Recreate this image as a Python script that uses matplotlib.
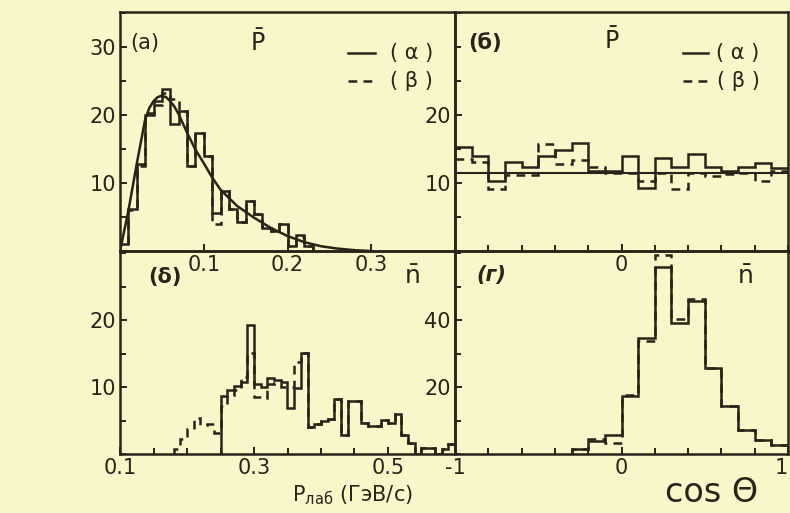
import numpy as np
import matplotlib
matplotlib.use("Agg")
import matplotlib.pyplot as plt
from matplotlib.ticker import MultipleLocator, FixedLocator

# ---- data ----
# (a) antiproton momentum spectrum, bins of 0.01 GeV/c
p_edges = np.round(np.arange(0.0, 0.2305, 0.01), 2)
p_alpha = [1.0, 6.2, 12.8, 19.9, 22.0, 23.8, 18.6, 20.6, 12.5, 17.4, 14.0, 5.6,
           8.8, 6.1, 4.2, 7.3, 5.4, 3.4, 2.9, 3.9, 0.8, 2.3, 0.8]
p_beta = [1.0, 6.0, 12.5, 20.3, 21.5, 23.2, 22.3, 20.6, 12.5, 17.4, 14.0, 4.0,
          8.8, 6.1, 4.2, 7.3, 5.4, 3.4, 2.9, 3.9, 0.8, 2.0, 0.8]
p_fit_x = [0.0, 0.01, 0.02, 0.03, 0.035, 0.04, 0.045, 0.05, 0.055, 0.06, 0.065,
           0.07, 0.08, 0.09, 0.10, 0.11, 0.12, 0.14, 0.16, 0.18, 0.20, 0.22,
           0.24, 0.26, 0.28, 0.30]
p_fit_y = [0.0, 5.9, 12.8, 19.3, 21.0, 22.0, 22.6, 22.8, 22.6, 22.0, 21.2,
           20.1, 17.4, 14.9, 12.9, 10.8, 9.0, 6.6, 4.9, 3.4, 2.2, 1.3,
           0.7, 0.35, 0.12, 0.0]

# (b) antiproton cos(theta), bins of 0.1
c_edges = np.round(np.linspace(-1.0, 1.0, 21), 2)
cp_alpha = [15.3, 14.0, 10.3, 13.0, 12.4, 13.9, 14.9, 15.8, 11.7, 11.8,
            13.9, 9.3, 13.7, 12.4, 14.2, 12.4, 11.8, 12.4, 12.9, 12.2]
cp_beta = [13.5, 13.0, 9.1, 11.2, 11.2, 15.7, 12.8, 13.4, 12.4, 11.5,
           11.4, 10.3, 11.4, 9.1, 11.4, 11.0, 11.3, 11.5, 10.3, 11.8]
cp_fit = 11.5

# (c) antineutron momentum spectrum
n_edges_alpha = np.round(np.arange(0.25, 0.6005, 0.01), 2)
n_alpha = [8.7, 9.5, 10.2, 10.8, 19.3, 10.5, 10.0, 11.3, 11.0, 10.7, 6.9, 9.9,
           15.1, 4.1, 4.5, 5.0, 5.2, 8.2, 2.8, 7.9, 7.9, 4.6, 4.2, 4.2, 5.1,
           4.6, 6.0, 2.8, 1.6, 0.0, 0.9, 0.9, 0.0, 0.7, 1.5]
n_edges_beta = np.round(np.arange(0.18, 0.6005, 0.01), 2)
n_beta = [0.7, 2.2, 3.7, 5.3, 4.3, 4.5, 3.2, 7.1, 8.8, 9.6, 11.5, 15.1, 8.5,
          8.3, 10.5, 10.6, 10.0, 10.0, 13.8, 15.1, 4.1, 4.5, 5.0, 5.2, 8.2,
          2.8, 7.9, 7.9, 4.6, 4.2, 4.2, 5.1, 4.6, 6.0, 2.8, 1.6, 0.0, 0.9,
          0.9, 0.0, 0.7, 1.5]

# (d) antineutron cos(theta)
cn_edges = np.round(np.linspace(-0.3, 1.0, 14), 2)
cn_alpha = [1.4, 4.0, 5.8, 17.3, 34.6, 55.8, 39.2, 45.6, 25.7, 14.3, 7.1, 4.1, 2.6]
cn_beta = [1.4, 4.5, 3.2, 17.7, 33.6, 59.3, 40.4, 46.4, 25.7, 14.3, 7.1, 4.1, 2.6]

# ---- style ----
bg = "#f9f6c9"
ink = "#2b2218"
lw = 1.8
dash = (0, (3.5, 2.5))
W, H = 790, 513

fig = plt.figure(figsize=(W / 100, H / 100), dpi=100, facecolor=bg)

L, M, R = 120 / W, 455 / W, 788 / W
T, Mid, B = 1 - 12 / H, 1 - 251 / H, 1 - 454 / H

ax_a = fig.add_axes([L, Mid, M - L, T - Mid])
ax_b = fig.add_axes([M, Mid, R - M, T - Mid])
ax_c = fig.add_axes([L, B, M - L, Mid - B])
ax_d = fig.add_axes([M, B, R - M, Mid - B])

for ax in (ax_a, ax_b, ax_c, ax_d):
    # transparent panels so that tick labels of neighbours stay visible
    ax.set_facecolor("none")
    for s in ax.spines.values():
        s.set_color(ink)
        s.set_linewidth(lw)
    ax.tick_params(which="both", direction="in", colors=ink, labelsize=15,
                   width=1.4, top=False, right=False, pad=3)
    ax.tick_params(which="major", length=5)
    ax.tick_params(which="minor", length=4)

# (a)
ax_a.stairs(p_alpha, p_edges, color=ink, lw=lw, baseline=0)
ax_a.stairs(p_beta, p_edges, color=ink, lw=lw, ls=dash, baseline=0)
ax_a.plot(p_fit_x, p_fit_y, color=ink, lw=lw)
ax_a.set_xlim(0, 0.4)
ax_a.set_ylim(0, 35.1)
ax_a.xaxis.set_major_locator(FixedLocator([0.1, 0.2, 0.3]))
ax_a.set_xticklabels(["0.1", "0.2", "0.3"])
ax_a.yaxis.set_major_locator(FixedLocator([10, 20, 30]))
ax_a.yaxis.set_minor_locator(MultipleLocator(5))

# (b)
ax_b.stairs(cp_alpha, c_edges, color=ink, lw=lw, baseline=None)
ax_b.stairs(cp_beta, c_edges, color=ink, lw=lw, ls=dash, baseline=None)
ax_b.axhline(cp_fit, color=ink, lw=1.5)
ax_b.set_xlim(-1, 1)
ax_b.set_ylim(0, 35.1)
ax_b.xaxis.set_major_locator(FixedLocator([0]))
ax_b.xaxis.set_minor_locator(MultipleLocator(0.2))
ax_b.set_xticklabels(["0"])
ax_b.yaxis.set_major_locator(FixedLocator([10, 20]))
ax_b.yaxis.set_minor_locator(MultipleLocator(5))

# (c)
ax_c.stairs(n_beta, n_edges_beta, color=ink, lw=lw, ls=dash, baseline=0)
ax_c.stairs(n_alpha, n_edges_alpha, color=ink, lw=lw, baseline=0)
ax_c.set_xlim(0.1, 0.6)
ax_c.set_ylim(0, 30.3)
ax_c.xaxis.set_major_locator(FixedLocator([0.1, 0.3, 0.5]))
ax_c.xaxis.set_minor_locator(MultipleLocator(0.05))
ax_c.set_xticklabels(["0.1", "0.3", "0.5"])
ax_c.yaxis.set_major_locator(FixedLocator([10, 20]))
ax_c.yaxis.set_minor_locator(MultipleLocator(5))

# (d)
ax_d.stairs(cn_beta, cn_edges, color=ink, lw=lw, ls=dash, baseline=0)
ax_d.stairs(cn_alpha, cn_edges, color=ink, lw=lw, baseline=0)
ax_d.set_xlim(-1, 1)
ax_d.set_ylim(0, 60.6)
ax_d.xaxis.set_major_locator(FixedLocator([-1, 0, 1]))
ax_d.xaxis.set_minor_locator(MultipleLocator(0.2))
ax_d.set_xticklabels(["-1", "0", "1"])
ax_d.get_xticklabels()[-1].set_horizontalalignment("right")
ax_d.yaxis.set_major_locator(FixedLocator([20, 40]))
ax_d.yaxis.set_minor_locator(MultipleLocator(10))

# panel letters and particle names
txt = dict(color=ink, ha="center", va="center")
ax_a.text(0.075, 0.87, "(a)", fontsize=15, transform=ax_a.transAxes, **txt)
ax_a.text(0.41, 0.87, r"$\bar{\mathregular{P}}$", fontsize=17, transform=ax_a.transAxes, **txt)
ax_b.text(0.09, 0.87, "(б)", fontsize=15, weight="bold", transform=ax_b.transAxes, **txt)
ax_b.text(0.47, 0.88, r"$\bar{\mathregular{P}}$", fontsize=17, transform=ax_b.transAxes, **txt)
ax_c.text(0.134, 0.87, "(δ)", fontsize=15, weight="bold", transform=ax_c.transAxes, **txt)
ax_c.text(0.87, 0.87, r"$\bar{\mathregular{n}}$", fontsize=18, transform=ax_c.transAxes, **txt)
ax_d.text(0.11, 0.88, "(г)", fontsize=15, weight="bold", style="italic",
          transform=ax_d.transAxes, **txt)
ax_d.text(0.87, 0.87, r"$\bar{\mathregular{n}}$", fontsize=18, transform=ax_d.transAxes, **txt)

# legends drawn by hand
for ax, x0, x1, xt in ((ax_a, 0.68, 0.76, 0.87), (ax_b, 0.685, 0.76, 0.85)):
    ax.plot([x0, x1], [0.83, 0.83], color=ink, lw=lw, transform=ax.transAxes)
    ax.plot([x0, x1], [0.71, 0.71], color=ink, lw=lw, ls=dash, transform=ax.transAxes)
    ax.text(xt, 0.83, "( α )", fontsize=15, transform=ax.transAxes, **txt)
    ax.text(xt, 0.71, "( β )", fontsize=15, transform=ax.transAxes, **txt)

# axis titles
fig.text(352 / W, 1 - 495 / H, r"P$_{\mathregular{лаб}}$ (ГэВ/с)", fontsize=15,
         color=ink, ha="center", va="center")
fig.text(712 / W, 1 - 492 / H, "cos Θ", fontsize=24, color=ink,
         ha="center", va="center")

fig.savefig("out.png", dpi=100, facecolor=bg)
